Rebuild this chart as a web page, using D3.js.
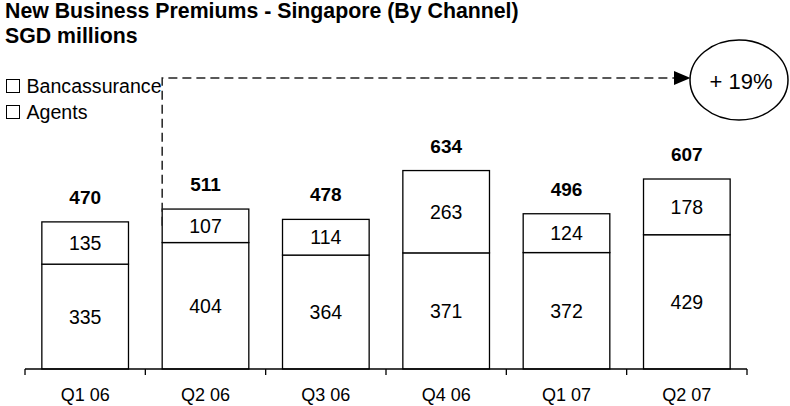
<!DOCTYPE html>
<html>
<head>
<meta charset="utf-8">
<script src="https://cdn.jsdelivr.net/npm/d3@7/dist/d3.min.js"></script>
<style>
  html, body { margin: 0; padding: 0; background: #ffffff; }
  svg { display: block; font-family: "Liberation Sans", Arial, sans-serif; }
</style>
</head>
<body>
<svg id="chart" width="790" height="406"></svg>
<script>
const categories = ["Q1 06", "Q2 06", "Q3 06", "Q4 06", "Q1 07", "Q2 07"];
const agents = [335, 404, 364, 371, 372, 429];
const bancassurance = [135, 107, 114, 263, 124, 178];
const seriesNames = ["Bancassurance", "Agents"];
const titleLines = ["New Business Premiums - Singapore (By Channel)", "SGD millions"];
const growthLabel = "+ 19%";

const rows = categories.map((c, i) => ({ cat: c, agents: agents[i], banc: bancassurance[i], total: agents[i] + bancassurance[i] }));

const svg = d3.select("#chart");

const x = d3.scaleBand().domain(categories).range([25, 747]).paddingInner(0.28).paddingOuter(0.14);
const y = d3.scaleLinear().domain([0, 700]).range([369, 149.9]);

// Title
svg.append("g").selectAll("text").data(titleLines).join("text")
  .attr("x", 5).attr("y", (d, i) => 18 + i * 24.5)
  .attr("font-size", 21.3).attr("font-weight", "bold").attr("fill", "#000")
  .text(d => d);

// Legend
const leg = svg.append("g").selectAll("g").data(seriesNames).join("g")
  .attr("transform", (d, i) => `translate(0, ${i * 26})`);
leg.append("rect").attr("x", 6.5).attr("y", 79.5).attr("width", 13).attr("height", 13)
  .attr("fill", "#fff").attr("stroke", "#000").attr("stroke-width", 1);
leg.append("text").attr("x", 26.5).attr("y", 92.5).attr("font-size", 19.6).attr("fill", "#000").text(d => d);

// Bars
const bars = svg.append("g").selectAll("g").data(rows).join("g");
bars.append("rect")
  .attr("x", d => x(d.cat)).attr("width", x.bandwidth())
  .attr("y", d => y(d.agents)).attr("height", d => y(0) - y(d.agents))
  .attr("fill", "#fff").attr("stroke", "#000").attr("stroke-width", 1.3);
bars.append("rect")
  .attr("x", d => x(d.cat)).attr("width", x.bandwidth())
  .attr("y", d => y(d.total)).attr("height", d => y(d.agents) - y(d.total))
  .attr("fill", "#fff").attr("stroke", "#000").attr("stroke-width", 1.3);

// Segment labels
bars.append("text")
  .attr("x", d => x(d.cat) + x.bandwidth() / 2)
  .attr("y", d => (y(0) + y(d.agents)) / 2 + 7)
  .attr("text-anchor", "middle").attr("font-size", 19.5).attr("fill", "#000")
  .text(d => d.agents);
bars.append("text")
  .attr("x", d => x(d.cat) + x.bandwidth() / 2)
  .attr("y", d => (y(d.agents) + y(d.total)) / 2 + 7)
  .attr("text-anchor", "middle").attr("font-size", 19.5).attr("fill", "#000")
  .text(d => d.banc);
bars.append("text")
  .attr("x", d => x(d.cat) + x.bandwidth() / 2)
  .attr("y", d => y(d.total) - 18)
  .attr("text-anchor", "middle").attr("font-size", 19).attr("font-weight", "bold").attr("fill", "#000")
  .text(d => d.total);

// Axis
const axisG = svg.append("g");
axisG.append("line").attr("x1", 25).attr("x2", 747).attr("y1", y(0)).attr("y2", y(0))
  .attr("stroke", "#000").attr("stroke-width", 1.3);
const tickPos = categories.map(c => x(c) - x.step() * x.paddingInner() / 2).concat([747]);
axisG.selectAll("line.tick").data(tickPos).join("line").attr("class", "tick")
  .attr("x1", d => d).attr("x2", d => d).attr("y1", y(0)).attr("y2", y(0) + 6)
  .attr("stroke", "#000").attr("stroke-width", 1.3);
axisG.selectAll("text").data(categories).join("text")
  .attr("x", d => x(d) + x.bandwidth() / 2).attr("y", 401)
  .attr("text-anchor", "middle").attr("font-size", 18).attr("fill", "#000")
  .text(d => d);

// Growth annotation
const ref = rows[1];
const lx = x(ref.cat);
const ly = 78;
const cx = 739, cy = 80, rx = 49, ry = 40;
svg.append("path")
  .attr("d", `M${lx},${(y(ref.agents) + y(ref.total)) / 2} L${lx},${ly} L${cx - rx - 15},${ly}`)
  .attr("fill", "none").attr("stroke", "#222").attr("stroke-width", 1.5).attr("stroke-dasharray", "9,5");
svg.append("path")
  .attr("d", `M${cx - rx - 16},${ly - 7} L${cx - rx + 0.5},${ly} L${cx - rx - 16},${ly + 7} Z`)
  .attr("fill", "#000");
svg.append("ellipse").attr("cx", cx).attr("cy", cy).attr("rx", rx).attr("ry", ry)
  .attr("fill", "#fff").attr("stroke", "#000").attr("stroke-width", 1.5);
svg.append("text").attr("x", cx + 2).attr("y", cy + 8.5).attr("text-anchor", "middle")
  .attr("font-size", 22).attr("fill", "#000").text(growthLabel);
</script>
</body>
</html>
